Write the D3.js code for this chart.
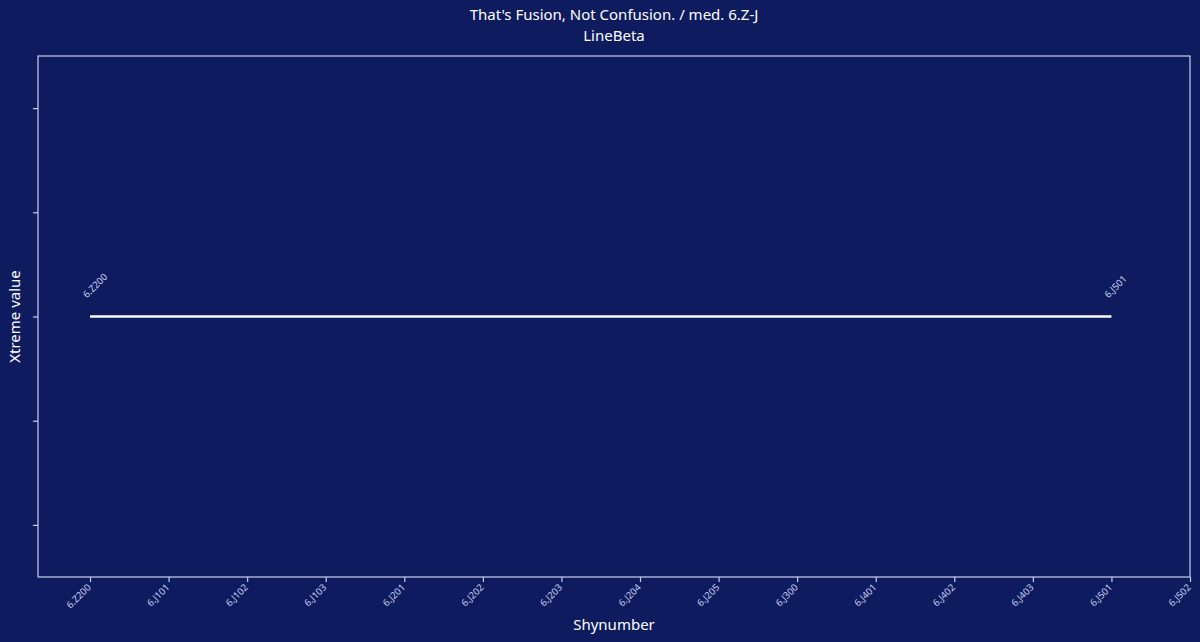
<!DOCTYPE html>
<html><head><meta charset="utf-8">
<script src="https://cdn.jsdelivr.net/npm/d3@7"></script>
<style>
html,body{margin:0;padding:0;background:#0e1b5e;}
svg{display:block;}
text{font-family:"Noto Sans","Open Sans",sans-serif;}
</style></head>
<body>
<svg id="chart" width="1200" height="642"></svg>
<script>
const categories = ["6.Z200","6.J101","6.J102","6.J103","6.J201","6.J202","6.J203","6.J204","6.J205","6.J300","6.J401","6.J402","6.J403","6.J501","6.J502"];
const seriesCategories = ["6.Z200","6.J501"];
const seriesValues = [1.0, 1.0];
const yTicks = [0.96, 0.98, 1.00, 1.02, 1.04];
const titleLines = ["That's Fusion, Not Confusion. / med. 6.Z-J", "LineBeta"];

const W = 1200, H = 642;
const m = {left:38, right:10, top:56, bottom:65};
const svg = d3.select("#chart");
svg.append("rect").attr("width",W).attr("height",H).attr("fill","#0e1b5e");

const idx = d3.scaleOrdinal().domain(categories).range(categories.map((c,i)=>i));
const x = d3.scaleLinear().domain([-0.662, categories.length-1]).range([m.left, W-m.right]);
const y = d3.scaleLinear().domain([0.95, 1.05]).range([H-m.bottom, m.top]);

const axisColor = "#c9d0ee";
const labelColor = "#c8d2f2";

// frame
svg.append("rect").attr("x",m.left).attr("y",m.top)
  .attr("width",W-m.right-m.left).attr("height",H-m.bottom-m.top)
  .attr("fill","none").attr("stroke",axisColor).attr("stroke-width",1.2);

// x axis
const xa = svg.append("g").attr("transform",`translate(0,${H-m.bottom})`)
  .call(d3.axisBottom(x).tickValues(categories.map((c,i)=>i)).tickFormat(i=>categories[i]).tickSize(5).tickSizeOuter(0));
xa.select(".domain").remove();
xa.selectAll(".tick line").attr("stroke",axisColor).attr("stroke-width",1.2);
xa.selectAll(".tick text").attr("fill",labelColor).attr("font-size",9.5)
  .attr("text-anchor","end").attr("dy",null).attr("y",0)
  .attr("transform","translate(1,11) rotate(-45)");

// y axis
const ya = svg.append("g").attr("transform",`translate(${m.left},0)`)
  .call(d3.axisLeft(y).tickValues(yTicks).tickFormat("").tickSize(5).tickSizeOuter(0));
ya.select(".domain").remove();
ya.selectAll(".tick line").attr("stroke",axisColor).attr("stroke-width",1.2);

// line
const pts = seriesCategories.map((c,i)=>({c, v:seriesValues[i]}));
svg.append("path").datum(pts)
  .attr("d", d3.line().x(d=>x(idx(d.c))).y(d=>y(d.v)))
  .attr("fill","none").attr("stroke","#ffffff").attr("stroke-width",2.6);

// point labels
svg.selectAll(".plabel").data(pts).join("text").attr("class","plabel")
  .attr("transform",d=>`translate(${x(idx(d.c))-3},${y(d.v)-18}) rotate(-45)`)
  .attr("fill",labelColor).attr("font-size",9.5).text(d=>d.c);

// titles
const cx = (m.left + W - m.right)/2;
svg.append("text").attr("x",cx).attr("y",20).attr("text-anchor","middle")
  .attr("fill","#ffffff").attr("font-size",15).text(titleLines[0]);
svg.append("text").attr("x",cx).attr("y",40.5).attr("text-anchor","middle")
  .attr("fill","#ffffff").attr("font-size",15).text(titleLines[1]);

// axis labels
svg.append("text").attr("x",cx).attr("y",630).attr("text-anchor","middle")
  .attr("fill","#ffffff").attr("font-size",15).text("Shynumber");
svg.append("text").attr("transform",`translate(20,${(m.top+H-m.bottom)/2}) rotate(-90)`)
  .attr("text-anchor","middle").attr("fill","#ffffff").attr("font-size",15).text("Xtreme value");
</script>
</body></html>
